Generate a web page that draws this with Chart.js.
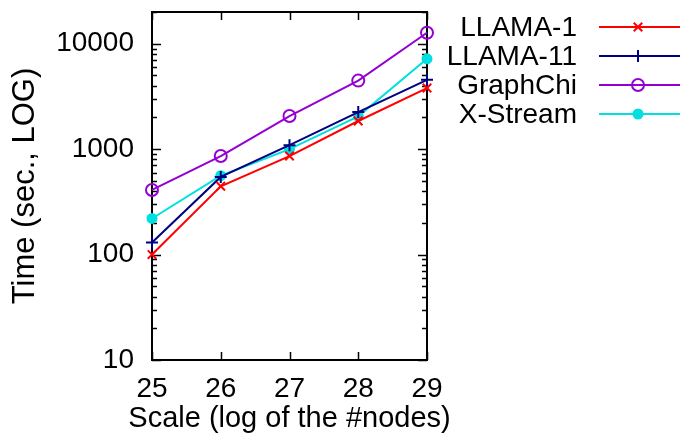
<!DOCTYPE html>
<html>
<head>
<meta charset="utf-8">
<script src="https://cdn.jsdelivr.net/npm/chart.js@4/dist/chart.umd.min.js"></script>
<style>
  html, body { margin: 0; padding: 0; background: #fff; }
  #wrap { width: 680px; height: 434px; position: relative; }
</style>
</head>
<body>
<div id="wrap"><canvas id="chart"></canvas></div>
<script>
const scaleNodes = [25, 26, 27, 28, 29];
const llama1 = [100, 445, 860, 1850, 3800];
const llama11 = [130, 545, 1090, 2250, 4550];
const graphChi = [410, 860, 2060, 4470, 12700];
const xStream = [220, 560, 1000, 2050, 7200];
const yTicks = [10, 100, 1000, 10000];
const xTitle = 'Scale (log of the #nodes)';
const FONT = '"Liberation Sans", Arial, Helvetica, sans-serif';

function pts(vals) {
  return scaleNodes.map((x, i) => ({ x, y: vals[i] }));
}

const frame = {
  id: 'frame',
  beforeDatasetsDraw(chart) {
    const { ctx, chartArea: a, scales } = chart;
    const y = scales.y, x = scales.x;
    ctx.save();
    ctx.strokeStyle = '#000';
    ctx.lineWidth = 1.5;
    ctx.beginPath();
    // minor + major ticks, inward, both sides
    for (const d of yTicks) {
      for (let k = 1; k <= 9; k++) {
        const v = d * k;
        if (v > y.max) break;
        const py = Math.round(y.getPixelForValue(v)) + 0.5;
        const len = k === 1 ? 9 : 5;
        ctx.moveTo(a.left, py); ctx.lineTo(a.left + len, py);
        ctx.moveTo(a.right, py); ctx.lineTo(a.right - len, py);
      }
    }
    for (const s of scaleNodes) {
      const px = Math.round(x.getPixelForValue(s)) + 0.5;
      ctx.moveTo(px, a.bottom); ctx.lineTo(px, a.bottom - 8);
      ctx.moveTo(px, a.top); ctx.lineTo(px, a.top + 8);
    }
    ctx.stroke();
    ctx.lineWidth = 2;
    ctx.strokeRect(a.left, a.top, a.right - a.left, a.bottom - a.top);
    // x title drawn here so it is not squeezed to the axis width
    ctx.fillStyle = '#000';
    ctx.font = '29px ' + FONT;
    ctx.textAlign = 'center';
    ctx.textBaseline = 'middle';
    ctx.fillText(xTitle, (a.left + a.right) / 2, 419);
    ctx.restore();
  }
};

const sideLegend = {
  id: 'sideLegend',
  afterDraw(chart) {
    const { ctx } = chart;
    ctx.save();
    ctx.font = '28px ' + FONT;
    ctx.textAlign = 'right';
    ctx.textBaseline = 'middle';
    chart.data.datasets.forEach((ds, i) => {
      const yy = 27 + i * 29;
      ctx.fillStyle = '#000';
      ctx.fillText(ds.label, 577, yy + 1);
      ctx.strokeStyle = ds.borderColor;
      ctx.lineWidth = 2;
      ctx.beginPath();
      ctx.moveTo(599, yy); ctx.lineTo(680, yy);
      ctx.stroke();
      ctx.fillStyle = ds.pointBackgroundColor;
      Chart.helpers.drawPoint(ctx, {
        pointStyle: ds.pointStyle, radius: ds.pointRadius,
        rotation: 0, borderWidth: ds.pointBorderWidth
      }, 638, yy);
    });
    ctx.restore();
  }
};

function series(label, vals, color, style, radius, fill) {
  return {
    label, data: pts(vals),
    borderColor: color, borderWidth: 2,
    pointStyle: style, pointRadius: radius,
    pointBorderColor: color, pointBorderWidth: 2,
    pointBackgroundColor: fill ? color : 'rgba(0,0,0,0)',
    clip: false, tension: 0
  };
}

new Chart(document.getElementById('chart'), {
  type: 'line',
  data: {
    datasets: [
      series('LLAMA-1', llama1, '#ff0000', 'crossRot', 6, false),
      series('LLAMA-11', llama11, '#000080', 'cross', 6, false),
      series('GraphChi', graphChi, '#9400d3', 'circle', 6, false),
      series('X-Stream', xStream, '#00e0e0', 'circle', 4.5, true)
    ]
  },
  options: {
    responsive: true,
    maintainAspectRatio: false,
    animation: false,
    events: [],
    layout: { padding: { top: 12, right: 253, left: 0, bottom: 0 } },
    plugins: { legend: { display: false }, tooltip: { enabled: false } },
    scales: {
      x: {
        type: 'linear', min: 25, max: 29,
        grid: { display: false, drawTicks: false },
        border: { display: false },
        ticks: { stepSize: 1, padding: 12, color: '#000', font: { family: FONT, size: 28 } },
        title: { display: false },
        afterFit(s) { s.height = 74; s.paddingLeft = 0; s.paddingRight = 0; }
      },
      y: {
        type: 'logarithmic', min: 10, max: 20000,
        grid: { display: false, drawTicks: false },
        border: { display: false },
        afterBuildTicks(s) { s.ticks = yTicks.map(v => ({ value: v, major: true })); },
        ticks: { padding: 18, color: '#000', font: { family: FONT, size: 28 },
                 callback: v => String(v) },
        title: { display: true, text: 'Time (sec., LOG)', color: '#000',
                 font: { family: FONT, size: 31 }, padding: { top: 7, bottom: 0 } },
        afterFit(s) { s.width = 152; s.paddingTop = 0; s.paddingBottom = 0; }
      }
    }
  },
  plugins: [frame, sideLegend]
});
</script>
</body>
</html>
